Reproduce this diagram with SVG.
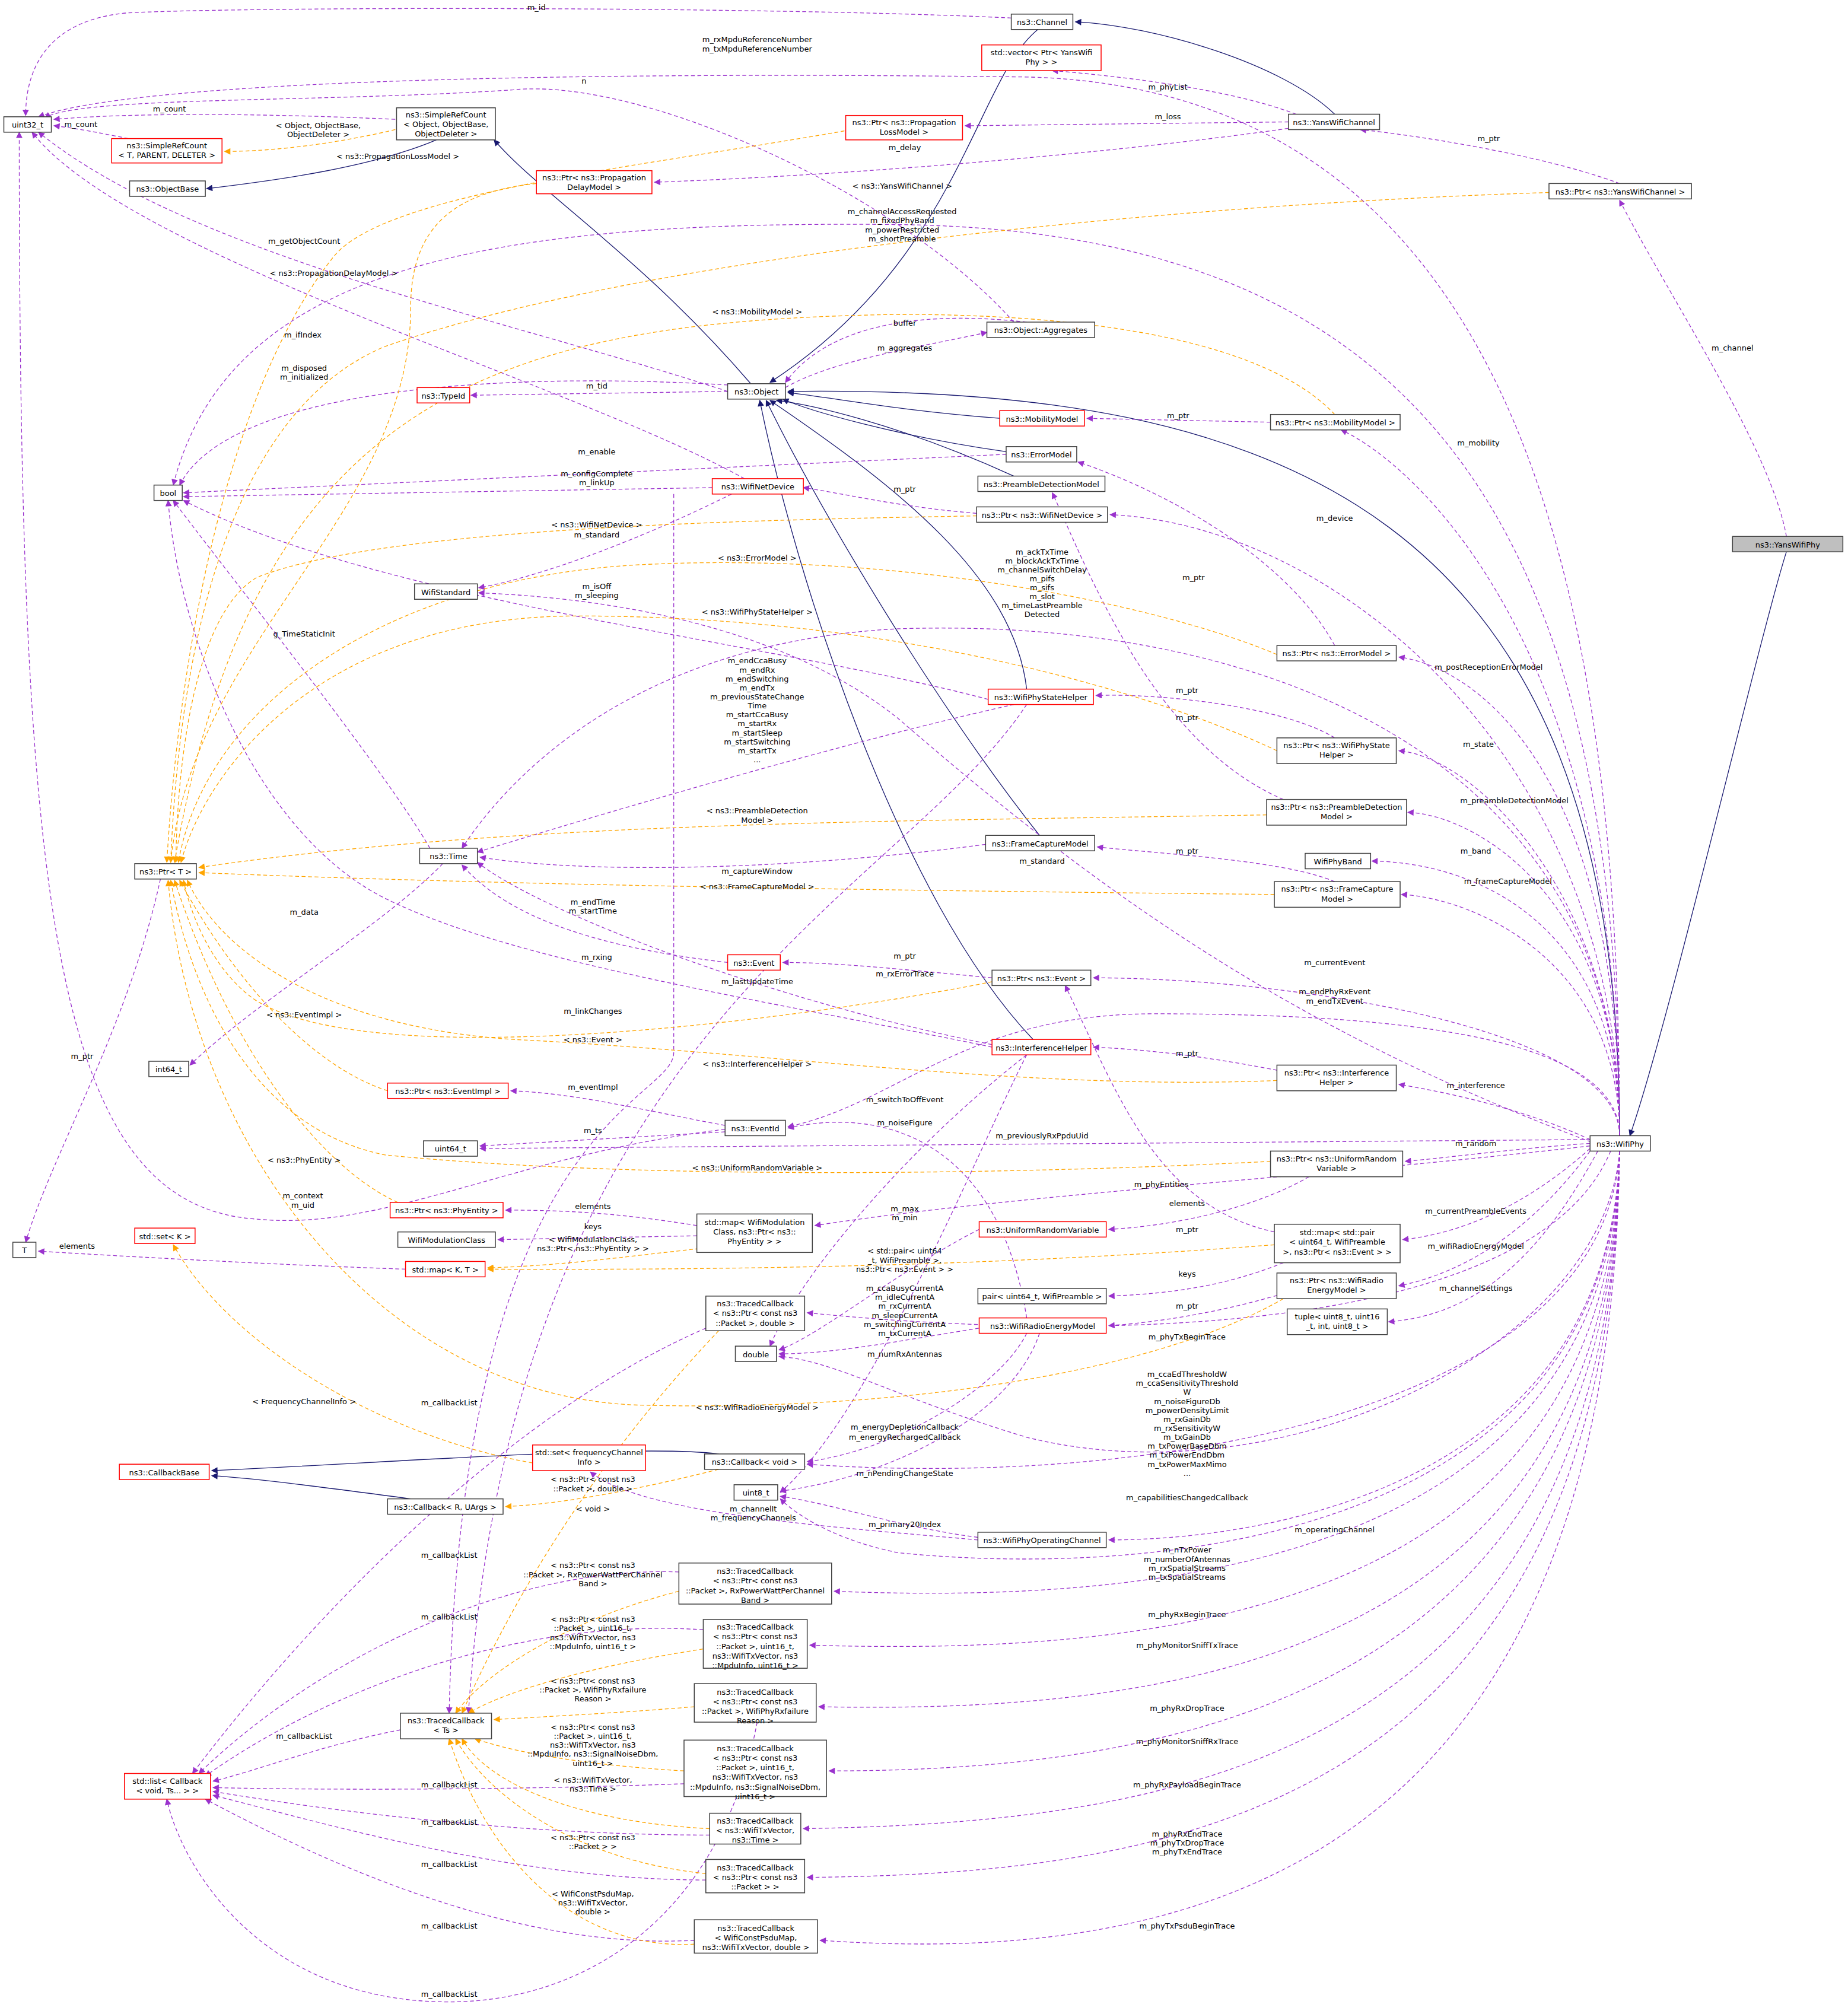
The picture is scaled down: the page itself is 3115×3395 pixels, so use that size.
<svg xmlns="http://www.w3.org/2000/svg" width="3115" height="3395" viewBox="0 0 3115 3395">
<style>
.n rect{fill:#fff;stroke:#404040;stroke-width:0.7}
.r rect{stroke:#f00}
.g rect{fill:#bfbfbf}
text{font-family:"DejaVu Sans","Liberation Sans",sans-serif;font-size:6px;fill:#000;text-anchor:middle}
.e path{fill:none;stroke-width:0.6}
.p{stroke:#9a32cd;stroke-dasharray:3,2}
.o{stroke:#ffa500;stroke-dasharray:3,2}
.b{stroke:#191970}
</style>
<defs>
<marker id="ap" viewBox="0 0 10 10" refX="9" refY="5" markerWidth="6" markerHeight="5" markerUnits="userSpaceOnUse" orient="auto"><path d="M0,0 L10,5 L0,10 z" fill="#9a32cd"/></marker>
<marker id="ao" viewBox="0 0 10 10" refX="9" refY="5" markerWidth="6" markerHeight="5" markerUnits="userSpaceOnUse" orient="auto"><path d="M0,0 L10,5 L0,10 z" fill="#ffa500"/></marker>
<marker id="ab" viewBox="0 0 10 10" refX="9" refY="5" markerWidth="6" markerHeight="5" markerUnits="userSpaceOnUse" orient="auto"><path d="M0,0 L10,5 L0,10 z" fill="#191970"/></marker>
</defs>
<rect width="3115" height="3395" fill="#fff"/>
<g transform="scale(2.1632)">
<g class="e" id="edges">
<g marker-end="url(#ab)" class="b">
<path class="b" d="M1392 430 C1370 500 1300 800 1270 885"/>
<path class="b" d="M1262 885 C1262 400 1000 300 614 305"/>
<path class="b" d="M1040 89 C1000 50 900 20 838 17"/>
<path class="b" d="M810 22 C760 60 750 200 600 298"/>
<path class="b" d="M585 299 C500 200 420 150 385 109"/>
<path class="b" d="M340 109 C290 130 220 140 161 147"/>
<path class="b" d="M779 326 C700 320 650 310 614 306"/>
<path class="b" d="M784 352 C700 340 630 320 610 311"/>
<path class="b" d="M790 371 C700 330 630 315 605 312"/>
<path class="b" d="M800 537 C790 450 700 380 600 312"/>
<path class="b" d="M810 651 C730 550 640 400 597 312"/>
<path class="b" d="M805 810 C700 700 620 450 592 312"/>
<path class="b" d="M560 1133 C500 1125 300 1140 165 1146"/>
<path class="b" d="M320 1168 C260 1160 200 1152 165 1150"/>
</g>
<g marker-end="url(#ap)">
<path class="p" d="M788 14 C600 5 200 5 100 10 C40 15 20 50 20 90"/>
<path class="p" d="M1262 885 C1262 500 1200 70 800 60 C400 55 100 65 30 91"/>
<path class="p" d="M790 251 C700 150 500 60 400 70 C250 80 60 75 35 92"/>
<path class="p" d="M308 93 C200 88 100 88 42 93"/>
<path class="p" d="M100 108 C80 104 60 100 42 98"/>
<path class="p" d="M567 305 C400 250 150 200 30 103"/>
<path class="p" d="M580 373 C450 300 100 200 25 103"/>
<path class="p" d="M565 880 C400 900 300 960 200 950 C40 940 15 700 15 103"/>
<path class="p" d="M125 685 C100 800 40 900 20 968"/>
<path class="p" d="M1262 885 C1262 400 1100 180 700 175 C400 172 180 200 135 378"/>
<path class="p" d="M567 300 C400 290 180 300 140 378"/>
<path class="p" d="M784 354 L143 384"/>
<path class="p" d="M555 380 L143 387"/>
<path class="p" d="M770 545 C600 500 300 470 143 390"/>
<path class="p" d="M335 661 C300 600 180 450 135 390"/>
<path class="p" d="M773 816 C600 780 400 750 300 700 C200 650 140 500 131 390"/>
<path class="p" d="M567 305 L367 308"/>
<path class="p" d="M800 251 C700 240 640 260 612 298"/>
<path class="p" d="M612 302 C650 280 720 270 769 259"/>
<path class="p" d="M1010 89 C960 70 880 60 820 55"/>
<path class="p" d="M1004 95 L752 98"/>
<path class="p" d="M1004 100 C900 115 700 135 510 142"/>
<path class="p" d="M1262 143 C1200 120 1100 105 1060 101"/>
<path class="p" d="M1392 418 C1380 350 1300 230 1262 156"/>
<path class="p" d="M990 329 L847 326"/>
<path class="p" d="M1262 885 C1262 500 1100 360 1045 335"/>
<path class="p" d="M761 400 C700 395 660 385 626 380"/>
<path class="p" d="M1262 885 C1262 600 1050 410 865 401"/>
<path class="p" d="M570 385 C500 420 420 450 373 458"/>
<path class="p" d="M1240 890 C1000 800 850 690 700 560 C600 480 450 465 373 462"/>
<path class="p" d="M1040 503 C1000 430 900 380 840 360"/>
<path class="p" d="M1262 885 C1262 600 1150 520 1090 512"/>
<path class="p" d="M1262 885 C1262 600 1000 480 700 490 C500 500 400 600 360 661"/>
<path class="p" d="M790 549 C650 580 450 640 372 664"/>
<path class="p" d="M1040 575 C1000 550 900 540 854 542"/>
<path class="p" d="M1262 885 C1262 700 1150 590 1090 585"/>
<path class="p" d="M1000 623 C900 580 850 450 820 384"/>
<path class="p" d="M1262 885 C1262 700 1150 635 1097 633"/>
<path class="p" d="M1262 885 C1262 720 1150 672 1069 671"/>
<path class="p" d="M1262 885 C1262 750 1150 700 1092 697"/>
<path class="p" d="M1040 687 C1000 670 900 665 855 660"/>
<path class="p" d="M768 658 C600 680 450 680 374 668"/>
<path class="p" d="M567 750 C480 740 400 720 360 674"/>
<path class="p" d="M345 673 C300 720 200 780 148 830"/>
<path class="p" d="M773 762 C700 755 650 750 610 750"/>
<path class="p" d="M1262 885 C1262 800 1000 762 852 762"/>
<path class="p" d="M1262 885 C1262 810 1100 790 900 790 C750 790 700 860 614 878"/>
<path class="p" d="M773 814 C600 780 420 710 372 672"/>
<path class="p" d="M1000 835 C950 825 900 818 852 816"/>
<path class="p" d="M1239 888 C1200 870 1150 855 1090 845"/>
<path class="p" d="M565 877 C500 865 450 852 398 850"/>
<path class="p" d="M565 882 L374 893"/>
<path class="p" d="M800 1027 C780 900 700 860 614 879"/>
<path class="p" d="M800 822 C700 900 620 1000 600 1049"/>
<path class="p" d="M1239 888 L374 895"/>
<path class="p" d="M1239 891 C1180 895 1130 902 1095 905"/>
<path class="p" d="M1020 917 C980 940 920 955 864 958"/>
<path class="p" d="M763 958 C700 990 640 1040 607 1052"/>
<path class="p" d="M1239 893 C1000 920 800 930 635 955"/>
<path class="p" d="M543 955 C480 945 440 943 394 943"/>
<path class="p" d="M543 963 L388 966"/>
<path class="p" d="M1239 895 C1200 930 1150 960 1093 966"/>
<path class="p" d="M993 960 C900 940 870 850 830 768"/>
<path class="p" d="M1000 984 C960 1000 920 1008 864 1010"/>
<path class="p" d="M1239 897 C1200 950 1150 990 1090 1002"/>
<path class="p" d="M1000 1008 C960 1020 910 1030 864 1033"/>
<path class="p" d="M763 1035 C700 1045 650 1055 607 1055"/>
<path class="p" d="M1245 897 C1200 980 1150 1025 1082 1030"/>
<path class="p" d="M1255 897 C1200 1030 900 1050 629 1023"/>
<path class="p" d="M800 822 C760 900 680 1100 608 1163"/>
<path class="p" d="M1262 897 C1250 1050 1000 1170 800 1120 C700 1090 650 1060 607 1057"/>
<path class="p" d="M800 1039 C780 1080 700 1130 629 1139"/>
<path class="p" d="M810 1039 C790 1100 700 1150 608 1162"/>
<path class="p" d="M1262 897 C1250 1100 900 1160 629 1141"/>
<path class="p" d="M762 1200 C650 1190 500 1180 460 1147"/>
<path class="p" d="M762 1198 C700 1190 650 1172 608 1166"/>
<path class="p" d="M1262 897 C1255 1150 1000 1200 864 1200"/>
<path class="p" d="M1262 897 C1255 1200 900 1230 700 1210 C650 1200 620 1180 608 1168"/>
<path class="p" d="M1262 897 C1255 1220 900 1250 650 1240"/>
<path class="p" d="M1262 897 C1255 1260 900 1290 631 1282"/>
<path class="p" d="M1262 897 C1255 1300 900 1335 638 1330"/>
<path class="p" d="M1262 897 C1255 1330 900 1380 646 1380"/>
<path class="p" d="M1262 897 C1255 1380 900 1420 626 1425"/>
<path class="p" d="M1262 897 C1255 1420 900 1460 629 1463"/>
<path class="p" d="M1262 897 C1255 1480 900 1530 639 1512"/>
<path class="p" d="M550 1035 C400 1100 250 1250 150 1382"/>
<path class="p" d="M529 1225 C400 1220 250 1290 155 1382"/>
<path class="p" d="M548 1270 C400 1260 250 1320 160 1384"/>
<path class="p" d="M312 1348 C250 1360 200 1380 166 1388"/>
<path class="p" d="M533 1390 C400 1395 250 1395 166 1393"/>
<path class="p" d="M553 1430 C400 1430 250 1410 166 1396"/>
<path class="p" d="M550 1465 C400 1465 250 1420 166 1399"/>
<path class="p" d="M541 1512 C400 1520 250 1450 160 1402"/>
<path class="p" d="M590 1342 C560 1500 450 1560 350 1560 C200 1560 140 1450 130 1402"/>
<path class="p" d="M316 989 C200 985 80 978 30 975"/>
<path class="p" d="M525 385 L525 820 C525 860 360 870 350 1335"/>
<path class="p" d="M800 549 C700 700 400 800 365 1335"/>
</g>
<g marker-end="url(#ao)">
<path class="o" d="M308 101 C270 110 220 118 175 118"/>
<path class="o" d="M658 102 C500 130 300 150 260 200 C180 300 140 500 130 672"/>
<path class="o" d="M418 143 C350 150 320 180 320 240 C320 400 150 500 133 672"/>
<path class="o" d="M1207 150 C900 160 500 200 300 270 C180 320 140 500 133 672"/>
<path class="o" d="M1040 323 C1000 280 900 245 700 245 C400 250 200 300 136 672"/>
<path class="o" d="M761 402 C600 405 300 410 200 450 C150 480 138 600 137 672"/>
<path class="o" d="M995 510 C900 470 700 430 500 440 C300 450 160 550 139 672"/>
<path class="o" d="M995 585 C900 540 700 480 450 480 C250 480 160 600 141 672"/>
<path class="o" d="M987 635 C700 640 400 640 155 676"/>
<path class="o" d="M993 697 C700 694 400 690 155 680"/>
<path class="o" d="M302 850 C240 830 180 760 140 686"/>
<path class="o" d="M773 765 C650 790 300 840 200 780 C170 760 150 720 143 686"/>
<path class="o" d="M995 842 C800 850 600 820 400 810 C250 800 170 740 146 686"/>
<path class="o" d="M310 937 C250 910 180 820 136 686"/>
<path class="o" d="M990 905 C800 915 500 920 300 900 C200 880 150 780 133 686"/>
<path class="o" d="M1000 1012 C900 1070 700 1100 500 1095 C300 1090 150 900 131 686"/>
<path class="o" d="M993 970 C800 985 600 990 380 989"/>
<path class="o" d="M545 973 C480 980 440 986 380 988"/>
<path class="o" d="M415 1140 C300 1120 180 1050 135 970"/>
<path class="o" d="M560 1145 C500 1160 440 1172 394 1174"/>
<path class="o" d="M560 1037 C500 1100 420 1200 360 1335"/>
<path class="o" d="M529 1240 C450 1260 380 1300 355 1335"/>
<path class="o" d="M548 1285 C450 1300 390 1320 365 1335"/>
<path class="o" d="M541 1330 C480 1335 420 1338 385 1340"/>
<path class="o" d="M533 1380 C450 1375 400 1365 370 1355"/>
<path class="o" d="M553 1425 C450 1420 380 1390 360 1355"/>
<path class="o" d="M550 1460 C450 1450 380 1400 355 1355"/>
<path class="o" d="M541 1515 C450 1520 380 1450 350 1355"/>
</g>
<g id="edge-labels">
<text x="418" y="8">m_id</text>
<text x="590" y="33">m_rxMpduReferenceNumber</text><text x="590" y="40">m_txMpduReferenceNumber</text>
<text x="455" y="65">n</text>
<text x="132" y="87">m_count</text><text x="63" y="99">m_count</text>
<text x="248" y="100">&lt; Object, ObjectBase,</text><text x="248" y="107">ObjectDeleter &gt;</text>
<text x="310" y="124">&lt; ns3::PropagationLossModel &gt;</text>
<text x="910" y="70">m_phyList</text><text x="910" y="93">m_loss</text><text x="705" y="117">m_delay</text>
<text x="1160" y="110">m_ptr</text><text x="703" y="147">&lt; ns3::YansWifiChannel &gt;</text>
<text x="703" y="167">m_channelAccessRequested</text><text x="703" y="174">m_fixedPhyBand</text><text x="703" y="181">m_powerRestricted</text><text x="703" y="188">m_shortPreamble</text>
<text x="237" y="190">m_getObjectCount</text>
<text x="260" y="215">&lt; ns3::PropagationDelayModel &gt;</text>
<text x="705" y="254">buffer</text><text x="590" y="245">&lt; ns3::MobilityModel &gt;</text>
<text x="236" y="263">m_ifIndex</text><text x="705" y="273">m_aggregates</text><text x="1350" y="273">m_channel</text>
<text x="237" y="289">m_disposed</text><text x="237" y="296">m_initialized</text>
<text x="465" y="303">m_tid</text><text x="918" y="326">m_ptr</text><text x="1152" y="347">m_mobility</text>
<text x="465" y="354">m_enable</text>
<text x="465" y="371">m_configComplete</text><text x="465" y="378">m_linkUp</text>
<text x="705" y="383">m_ptr</text><text x="1040" y="406">m_device</text>
<text x="465" y="411">&lt; ns3::WifiNetDevice &gt;</text><text x="465" y="419">m_standard</text>
<text x="590" y="437">&lt; ns3::ErrorModel &gt;</text><text x="930" y="452">m_ptr</text>
<text x="812" y="432">m_ackTxTime</text><text x="812" y="439">m_blockAckTxTime</text><text x="812" y="446">m_channelSwitchDelay</text><text x="812" y="453">m_pifs</text><text x="812" y="460">m_sifs</text><text x="812" y="467">m_slot</text><text x="812" y="474">m_timeLastPreamble</text><text x="812" y="481">Detected</text>
<text x="465" y="459">m_isOff</text><text x="465" y="466">m_sleeping</text>
<text x="590" y="479">&lt; ns3::WifiPhyStateHelper &gt;</text>
<text x="237" y="496">g_TimeStaticInit</text>
<text x="590" y="517">m_endCcaBusy</text><text x="590" y="524">m_endRx</text><text x="590" y="531">m_endSwitching</text><text x="590" y="538">m_endTx</text><text x="590" y="545">m_previousStateChange</text><text x="590" y="552">Time</text><text x="590" y="559">m_startCcaBusy</text><text x="590" y="566">m_startRx</text><text x="590" y="573">m_startSleep</text><text x="590" y="580">m_startSwitching</text><text x="590" y="587">m_startTx</text><text x="590" y="594">...</text>
<text x="1160" y="522">m_postReceptionErrorModel</text>
<text x="925" y="540">m_ptr</text><text x="925" y="561">m_ptr</text><text x="1152" y="582">m_state</text>
<text x="1180" y="626">m_preambleDetectionModel</text>
<text x="590" y="634">&lt; ns3::PreambleDetection</text><text x="590" y="641">Model &gt;</text>
<text x="1150" y="665">m_band</text><text x="925" y="665">m_ptr</text><text x="812" y="673">m_standard</text>
<text x="590" y="681">m_captureWindow</text><text x="1175" y="689">m_frameCaptureModel</text>
<text x="590" y="693">&lt; ns3::FrameCaptureModel &gt;</text>
<text x="462" y="705">m_endTime</text><text x="462" y="712">m_startTime</text>
<text x="237" y="713">m_data</text>
<text x="705" y="747">m_ptr</text><text x="465" y="748">m_rxing</text><text x="1040" y="752">m_currentEvent</text>
<text x="705" y="761">m_rxErrorTrace</text><text x="590" y="767">m_lastUpdateTime</text>
<text x="1040" y="775">m_endPhyRxEvent</text><text x="1040" y="782">m_endTxEvent</text>
<text x="462" y="790">m_linkChanges</text><text x="237" y="793">&lt; ns3::EventImpl &gt;</text>
<text x="462" y="812">&lt; ns3::Event &gt;</text><text x="925" y="823">m_ptr</text><text x="64" y="825">m_ptr</text>
<text x="590" y="831">&lt; ns3::InterferenceHelper &gt;</text><text x="1150" y="848">m_interference</text>
<text x="462" y="849">m_eventImpl</text><text x="705" y="859">m_switchToOffEvent</text>
<text x="705" y="877">m_noiseFigure</text><text x="462" y="883">m_ts</text><text x="812" y="887">m_previouslyRxPpduUid</text>
<text x="1150" y="893">m_random</text><text x="237" y="906">&lt; ns3::PhyEntity &gt;</text>
<text x="590" y="912">&lt; ns3::UniformRandomVariable &gt;</text><text x="905" y="925">m_phyEntities</text>
<text x="236" y="934">m_context</text><text x="236" y="941">m_uid</text>
<text x="925" y="940">elements</text><text x="462" y="942">elements</text>
<text x="705" y="944">m_max</text><text x="705" y="951">m_min</text><text x="1150" y="946">m_currentPreambleEvents</text>
<text x="462" y="958">keys</text><text x="925" y="960">m_ptr</text>
<text x="462" y="968">&lt; WifiModulationClass,</text><text x="462" y="975">ns3::Ptr&lt; ns3::PhyEntity &gt; &gt;</text>
<text x="60" y="973">elements</text><text x="1150" y="973">m_wifiRadioEnergyModel</text>
<text x="705" y="977">&lt; std::pair&lt; uint64</text><text x="705" y="984">_t, WifiPreamble &gt;,</text><text x="705" y="991">ns3::Ptr&lt; ns3::Event &gt; &gt;</text>
<text x="925" y="995">keys</text><text x="1150" y="1006">m_channelSettings</text>
<text x="705" y="1006">m_ccaBusyCurrentA</text><text x="705" y="1013">m_idleCurrentA</text><text x="705" y="1020">m_rxCurrentA</text><text x="705" y="1027">m_sleepCurrentA</text><text x="705" y="1034">m_switchingCurrentA</text><text x="705" y="1041">m_txCurrentA</text>
<text x="925" y="1020">m_ptr</text><text x="925" y="1044">m_phyTxBeginTrace</text><text x="705" y="1057">m_numRxAntennas</text>
<text x="925" y="1073">m_ccaEdThresholdW</text><text x="925" y="1080">m_ccaSensitivityThreshold</text><text x="925" y="1087">W</text><text x="925" y="1094">m_noiseFigureDb</text><text x="925" y="1101">m_powerDensityLimit</text><text x="925" y="1108">m_rxGainDb</text><text x="925" y="1115">m_rxSensitivityW</text><text x="925" y="1122">m_txGainDb</text><text x="925" y="1129">m_txPowerBaseDbm</text><text x="925" y="1136">m_txPowerEndDbm</text><text x="925" y="1143">m_txPowerMaxMimo</text><text x="925" y="1150">...</text>
<text x="350" y="1095">m_callbackList</text><text x="237" y="1094">&lt; FrequencyChannelInfo &gt;</text><text x="590" y="1099">&lt; ns3::WifiRadioEnergyModel &gt;</text>
<text x="705" y="1114">m_energyDepletionCallback</text><text x="705" y="1122">m_energyRechargedCallback</text>
<text x="705" y="1150">m_nPendingChangeState</text>
<text x="462" y="1155">&lt; ns3::Ptr&lt; const ns3</text><text x="462" y="1162">::Packet &gt;, double &gt;</text>
<text x="925" y="1169">m_capabilitiesChangedCallback</text><text x="462" y="1178">&lt; void &gt;</text>
<text x="587" y="1178">m_channelIt</text><text x="587" y="1185">m_frequencyChannels</text>
<text x="705" y="1190">m_primary20Index</text><text x="1040" y="1194">m_operatingChannel</text>
<text x="925" y="1210">m_nTxPower</text><text x="925" y="1217">m_numberOfAntennas</text><text x="925" y="1224">m_rxSpatialStreams</text><text x="925" y="1231">m_txSpatialStreams</text>
<text x="350" y="1214">m_callbackList</text>
<text x="462" y="1222">&lt; ns3::Ptr&lt; const ns3</text><text x="462" y="1229">::Packet &gt;, RxPowerWattPerChannel</text><text x="462" y="1236">Band &gt;</text>
<text x="925" y="1260">m_phyRxBeginTrace</text><text x="350" y="1262">m_callbackList</text>
<text x="462" y="1264">&lt; ns3::Ptr&lt; const ns3</text><text x="462" y="1271">::Packet &gt;, uint16_t,</text><text x="462" y="1278">ns3::WifiTxVector, ns3</text><text x="462" y="1285">::MpduInfo, uint16_t &gt;</text>
<text x="925" y="1284">m_phyMonitorSniffTxTrace</text>
<text x="462" y="1312">&lt; ns3::Ptr&lt; const ns3</text><text x="462" y="1319">::Packet &gt;, WifiPhyRxfailure</text><text x="462" y="1326">Reason &gt;</text>
<text x="925" y="1333">m_phyRxDropTrace</text>
<text x="462" y="1348">&lt; ns3::Ptr&lt; const ns3</text><text x="462" y="1355">::Packet &gt;, uint16_t,</text><text x="462" y="1362">ns3::WifiTxVector, ns3</text><text x="462" y="1369">::MpduInfo, ns3::SignalNoiseDbm,</text><text x="462" y="1376">uint16_t &gt;</text>
<text x="237" y="1355">m_callbackList</text><text x="925" y="1359">m_phyMonitorSniffRxTrace</text>
<text x="462" y="1389">&lt; ns3::WifiTxVector,</text><text x="462" y="1396">ns3::Time &gt;</text>
<text x="350" y="1393">m_callbackList</text><text x="925" y="1393">m_phyRxPayloadBeginTrace</text>
<text x="350" y="1422">m_callbackList</text>
<text x="925" y="1431">m_phyRxEndTrace</text><text x="925" y="1438">m_phyTxDropTrace</text><text x="925" y="1445">m_phyTxEndTrace</text>
<text x="462" y="1434">&lt; ns3::Ptr&lt; const ns3</text><text x="462" y="1441">::Packet &gt; &gt;</text>
<text x="350" y="1455">m_callbackList</text>
<text x="462" y="1478">&lt; WifiConstPsduMap,</text><text x="462" y="1485">ns3::WifiTxVector,</text><text x="462" y="1492">double &gt;</text>
<text x="350" y="1503">m_callbackList</text><text x="925" y="1503">m_phyTxPsduBeginTrace</text>
<text x="350" y="1556">m_callbackList</text>
</g>
</g>
<g id="nodes">
<g class="n" id="uint32"><rect x="3" y="91" width="37" height="12"/><text x="21.5" y="99.5">uint32_t</text></g>
<g class="n r" id="srcT"><rect x="87" y="108" width="86" height="19"/><text x="130" y="115.5">ns3::SimpleRefCount</text><text x="130" y="123">&lt; T, PARENT, DELETER &gt;</text></g>
<g class="n" id="objbase"><rect x="101" y="141" width="59" height="12"/><text x="130.5" y="149.5">ns3::ObjectBase</text></g>
<g class="n" id="srcObj"><rect x="309" y="84" width="77" height="25"/><text x="347.5" y="91.5">ns3::SimpleRefCount</text><text x="347.5" y="99">&lt; Object, ObjectBase,</text><text x="347.5" y="106.5">ObjectDeleter &gt;</text></g>
<g class="n" id="bool"><rect x="120" y="378" width="22" height="12"/><text x="131" y="386.5">bool</text></g>
<g class="n r" id="typeid"><rect x="325" y="302" width="41" height="12"/><text x="345.5" y="310.5">ns3::TypeId</text></g>
<g class="n" id="wstd"><rect x="323" y="455" width="49" height="12"/><text x="347.5" y="463.5">WifiStandard</text></g>
<g class="n" id="ptrT"><rect x="105" y="673" width="48" height="12"/><text x="129" y="681.5">ns3::Ptr&lt; T &gt;</text></g>
<g class="n" id="time"><rect x="327" y="661" width="45" height="12"/><text x="349.5" y="669.5">ns3::Time</text></g>
<g class="n" id="int64"><rect x="116" y="827" width="31" height="12"/><text x="131.5" y="835.5">int64_t</text></g>
<g class="n" id="uint64"><rect x="330" y="889" width="42" height="12"/><text x="351" y="897.5">uint64_t</text></g>
<g class="n r" id="ptrEI"><rect x="302" y="844" width="94" height="12"/><text x="349" y="852.5">ns3::Ptr&lt; ns3::EventImpl &gt;</text></g>
<g class="n r" id="ptrPE"><rect x="304" y="937" width="88" height="12"/><text x="348" y="945.5">ns3::Ptr&lt; ns3::PhyEntity &gt;</text></g>
<g class="n" id="wmc"><rect x="310" y="960" width="76" height="12"/><text x="348" y="968.5">WifiModulationClass</text></g>
<g class="n r" id="setK"><rect x="105" y="957" width="47" height="12"/><text x="128.5" y="965.5">std::set&lt; K &gt;</text></g>
<g class="n" id="T"><rect x="10" y="968" width="18" height="12"/><text x="19" y="976.5">T</text></g>
<g class="n r" id="mapKT"><rect x="316" y="983" width="62" height="12"/><text x="347" y="991.5">std::map&lt; K, T &gt;</text></g>
<g class="n r" id="cbbase"><rect x="93" y="1141" width="70" height="12"/><text x="128" y="1149.5">ns3::CallbackBase</text></g>
<g class="n" id="cbR"><rect x="302" y="1168" width="90" height="12"/><text x="347" y="1176.5">ns3::Callback&lt; R, UArgs &gt;</text></g>
<g class="n" id="tcTs"><rect x="312" y="1335" width="71" height="20"/><text x="347.5" y="1343">ns3::TracedCallback</text><text x="347.5" y="1350.5">&lt; Ts &gt;</text></g>
<g class="n r" id="list"><rect x="97" y="1382" width="67" height="20"/><text x="130.5" y="1390">std::list&lt; Callback</text><text x="130.5" y="1397.5">&lt; void, Ts... &gt; &gt;</text></g>
<g class="n r" id="ptrLoss"><rect x="659" y="90" width="91" height="19"/><text x="704.5" y="97.5">ns3::Ptr&lt; ns3::Propagation</text><text x="704.5" y="105">LossModel &gt;</text></g>
<g class="n r" id="ptrDelay"><rect x="418" y="133" width="90" height="18"/><text x="463" y="140.5">ns3::Ptr&lt; ns3::Propagation</text><text x="463" y="148">DelayModel &gt;</text></g>
<g class="n" id="channel"><rect x="788" y="11" width="48" height="12"/><text x="812" y="19.5">ns3::Channel</text></g>
<g class="n r" id="vec"><rect x="765" y="35" width="93" height="20"/><text x="811.5" y="43">std::vector&lt; Ptr&lt; YansWifi</text><text x="811.5" y="50.5">Phy &gt; &gt;</text></g>
<g class="n" id="ywc"><rect x="1004" y="89" width="71" height="12"/><text x="1039.5" y="97.5">ns3::YansWifiChannel</text></g>
<g class="n" id="ptrYWC"><rect x="1207" y="143" width="111" height="12"/><text x="1262.5" y="151.5">ns3::Ptr&lt; ns3::YansWifiChannel &gt;</text></g>
<g class="n" id="aggr"><rect x="769" y="251" width="84" height="12"/><text x="811" y="259.5">ns3::Object::Aggregates</text></g>
<g class="n" id="object"><rect x="567" y="299" width="45" height="12"/><text x="589.5" y="307.5">ns3::Object</text></g>
<g class="n r" id="mob"><rect x="779" y="320" width="66" height="12"/><text x="812" y="328.5">ns3::MobilityModel</text></g>
<g class="n" id="ptrMob"><rect x="990" y="323" width="101" height="12"/><text x="1040.5" y="331.5">ns3::Ptr&lt; ns3::MobilityModel &gt;</text></g>
<g class="n" id="err"><rect x="784" y="348" width="55" height="12"/><text x="811.5" y="356.5">ns3::ErrorModel</text></g>
<g class="n r" id="wnd"><rect x="555" y="373" width="71" height="12"/><text x="590.5" y="381.5">ns3::WifiNetDevice</text></g>
<g class="n" id="pdm"><rect x="762" y="371" width="99" height="12"/><text x="811.5" y="379.5">ns3::PreambleDetectionModel</text></g>
<g class="n" id="ptrWND"><rect x="761" y="395" width="102" height="12"/><text x="812" y="403.5">ns3::Ptr&lt; ns3::WifiNetDevice &gt;</text></g>
<g class="n" id="ptrErr"><rect x="995" y="503" width="93" height="12"/><text x="1041.5" y="511.5">ns3::Ptr&lt; ns3::ErrorModel &gt;</text></g>
<g class="n r" id="wpsh"><rect x="770" y="537" width="82" height="12"/><text x="811" y="545.5">ns3::WifiPhyStateHelper</text></g>
<g class="n" id="ptrWPSH"><rect x="995" y="575" width="93" height="20"/><text x="1041.5" y="583">ns3::Ptr&lt; ns3::WifiPhyState</text><text x="1041.5" y="590.5">Helper &gt;</text></g>
<g class="n" id="ptrPDM"><rect x="987" y="623" width="109" height="20"/><text x="1041.5" y="631">ns3::Ptr&lt; ns3::PreambleDetection</text><text x="1041.5" y="638.5">Model &gt;</text></g>
<g class="n" id="fcm"><rect x="768" y="651" width="85" height="12"/><text x="810.5" y="659.5">ns3::FrameCaptureModel</text></g>
<g class="n" id="band"><rect x="1017" y="665" width="51" height="12"/><text x="1042.5" y="673.5">WifiPhyBand</text></g>
<g class="n" id="ptrFCM"><rect x="993" y="687" width="98" height="20"/><text x="1042" y="695">ns3::Ptr&lt; ns3::FrameCapture</text><text x="1042" y="702.5">Model &gt;</text></g>
<g class="n r" id="event"><rect x="567" y="744" width="41" height="12"/><text x="587.5" y="752.5">ns3::Event</text></g>
<g class="n" id="ptrEv"><rect x="773" y="756" width="77" height="12"/><text x="811.5" y="764.5">ns3::Ptr&lt; ns3::Event &gt;</text></g>
<g class="n r" id="ih"><rect x="773" y="810" width="77" height="12"/><text x="811.5" y="818.5">ns3::InterferenceHelper</text></g>
<g class="n" id="ptrIH"><rect x="995" y="830" width="93" height="20"/><text x="1041.5" y="838">ns3::Ptr&lt; ns3::Interference</text><text x="1041.5" y="845.5">Helper &gt;</text></g>
<g class="n" id="eventid"><rect x="565" y="873" width="47" height="12"/><text x="588.5" y="881.5">ns3::EventId</text></g>
<g class="n" id="wifiphy"><rect x="1239" y="885" width="47" height="12"/><text x="1262.5" y="893.5">ns3::WifiPhy</text></g>
<g class="n" id="ptrURV"><rect x="990" y="897" width="103" height="20"/><text x="1041.5" y="905">ns3::Ptr&lt; ns3::UniformRandom</text><text x="1041.5" y="912.5">Variable &gt;</text></g>
<g class="n" id="mapWMC"><rect x="543" y="946" width="90" height="30"/><text x="588" y="954.5">std::map&lt; WifiModulation</text><text x="588" y="962">Class, ns3::Ptr&lt; ns3::</text><text x="588" y="969.5">PhyEntity &gt; &gt;</text></g>
<g class="n r" id="urv"><rect x="763" y="952" width="99" height="12"/><text x="812.5" y="960.5">ns3::UniformRandomVariable</text></g>
<g class="n" id="mapPair"><rect x="993" y="954" width="98" height="30"/><text x="1042" y="962.5">std::map&lt; std::pair</text><text x="1042" y="970">&lt; uint64_t, WifiPreamble</text><text x="1042" y="977.5">&gt;, ns3::Ptr&lt; ns3::Event &gt; &gt;</text></g>
<g class="n" id="ptrWREM"><rect x="995" y="992" width="93" height="20"/><text x="1041.5" y="1000">ns3::Ptr&lt; ns3::WifiRadio</text><text x="1041.5" y="1007.5">EnergyModel &gt;</text></g>
<g class="n" id="pair"><rect x="762" y="1004" width="100" height="12"/><text x="812" y="1012.5">pair&lt; uint64_t, WifiPreamble &gt;</text></g>
<g class="n" id="tcPd"><rect x="550" y="1010" width="77" height="27"/><text x="588.5" y="1018">ns3::TracedCallback</text><text x="588.5" y="1025.5">&lt; ns3::Ptr&lt; const ns3</text><text x="588.5" y="1033">::Packet &gt;, double &gt;</text></g>
<g class="n" id="tuple"><rect x="1003" y="1020" width="78" height="20"/><text x="1042" y="1028">tuple&lt; uint8_t, uint16</text><text x="1042" y="1035.5">_t, int, uint8_t &gt;</text></g>
<g class="n r" id="wrem"><rect x="763" y="1027" width="99" height="12"/><text x="812.5" y="1035.5">ns3::WifiRadioEnergyModel</text></g>
<g class="n" id="double"><rect x="573" y="1049" width="32" height="12"/><text x="589" y="1057.5">double</text></g>
<g class="n r" id="setFCI"><rect x="415" y="1126" width="88" height="20"/><text x="459" y="1134">std::set&lt; frequencyChannel</text><text x="459" y="1141.5">Info &gt;</text></g>
<g class="n" id="cbv"><rect x="549" y="1133" width="78" height="12"/><text x="588" y="1141.5">ns3::Callback&lt; void &gt;</text></g>
<g class="n" id="uint8"><rect x="572" y="1157" width="34" height="12"/><text x="589" y="1165.5">uint8_t</text></g>
<g class="n" id="woc"><rect x="762" y="1194" width="100" height="12"/><text x="812" y="1202.5">ns3::WifiPhyOperatingChannel</text></g>
<g class="n" id="tcRxP"><rect x="529" y="1218" width="119" height="32"/><text x="588.5" y="1226.5">ns3::TracedCallback</text><text x="588.5" y="1234">&lt; ns3::Ptr&lt; const ns3</text><text x="588.5" y="1241.5">::Packet &gt;, RxPowerWattPerChannel</text><text x="588.5" y="1249">Band &gt;</text></g>
<g class="n" id="tcMST"><rect x="548" y="1262" width="81" height="38"/><text x="588.5" y="1270">ns3::TracedCallback</text><text x="588.5" y="1277.5">&lt; ns3::Ptr&lt; const ns3</text><text x="588.5" y="1285">::Packet &gt;, uint16_t,</text><text x="588.5" y="1292.5">ns3::WifiTxVector, ns3</text><text x="588.5" y="1300">::MpduInfo, uint16_t &gt;</text></g>
<g class="n" id="tcDrop"><rect x="541" y="1312" width="95" height="30"/><text x="588.5" y="1320.5">ns3::TracedCallback</text><text x="588.5" y="1328">&lt; ns3::Ptr&lt; const ns3</text><text x="588.5" y="1335.5">::Packet &gt;, WifiPhyRxfailure</text><text x="588.5" y="1343">Reason &gt;</text></g>
<g class="n" id="tcMSR"><rect x="533" y="1356" width="111" height="44"/><text x="588.5" y="1364.5">ns3::TracedCallback</text><text x="588.5" y="1372">&lt; ns3::Ptr&lt; const ns3</text><text x="588.5" y="1379.5">::Packet &gt;, uint16_t,</text><text x="588.5" y="1387">ns3::WifiTxVector, ns3</text><text x="588.5" y="1394.5">::MpduInfo, ns3::SignalNoiseDbm,</text><text x="588.5" y="1402">uint16_t &gt;</text></g>
<g class="n" id="tcTV"><rect x="553" y="1413" width="71" height="24"/><text x="588.5" y="1421">ns3::TracedCallback</text><text x="588.5" y="1428.5">&lt; ns3::WifiTxVector,</text><text x="588.5" y="1436">ns3::Time &gt;</text></g>
<g class="n" id="tcP"><rect x="550" y="1449" width="77" height="26"/><text x="588.5" y="1457.5">ns3::TracedCallback</text><text x="588.5" y="1465">&lt; ns3::Ptr&lt; const ns3</text><text x="588.5" y="1472.5">::Packet &gt; &gt;</text></g>
<g class="n" id="tcPsdu"><rect x="541" y="1496" width="96" height="26"/><text x="589" y="1504.5">ns3::TracedCallback</text><text x="589" y="1512">&lt; WifiConstPsduMap,</text><text x="589" y="1519.5">ns3::WifiTxVector, double &gt;</text></g>
<g class="n g" id="ywp"><rect x="1350" y="418" width="86" height="12"/><text x="1393" y="426.5">ns3::YansWifiPhy</text></g>
</g>
</g>
</svg>
